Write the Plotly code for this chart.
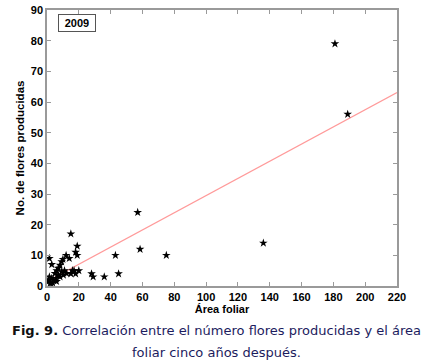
import numpy as np
import plotly.graph_objects as go

# Data
area_foliar = [57, 58.5, 43, 45, 36, 28, 29, 20, 19, 18, 19, 15, 12, 14, 1.5, 3,
               15, 17, 18, 16, 10, 9.2, 8.2, 7.1, 6.1, 5,
               1.5, 3, 0.8, 4, 2.3, 5.7, 8.2, 7, 10.3, 12.4, 9.2, 2, 1, 3.5, 6, 11,
               75, 136, 181, 189]
flores = [24, 12, 10, 4, 3, 4, 3, 5, 13, 11, 10, 17, 10, 9, 9, 7,
          4, 5, 4, 5, 8.7, 7.9, 6.8, 5.8, 5, 4.1,
          3, 2.5, 1.4, 2, 0.9, 2.5, 3, 3.6, 3.6, 4.1, 4.7, 1, 2, 1, 1.5, 5,
          10, 14, 79, 56]
fit_intercept = 1.5
fit_slope = 0.28
x_ticks = list(range(0, 221, 20))
y_ticks = list(range(0, 91, 10))
year_label = "2009"

fit_x = np.array([0, 220])
fit_y = fit_intercept + fit_slope * fit_x

fig = go.Figure()
fig.add_trace(go.Scatter(x=fit_x, y=fit_y, mode="lines",
                         line=dict(color="#ff9a9a", width=1.2), showlegend=False))
fig.add_trace(go.Scatter(x=area_foliar, y=flores, mode="markers",
                         marker=dict(symbol="star", size=6.5, color="black"),
                         showlegend=False))

bold = dict(family="Liberation Sans, Arial", size=11, color="black", weight="bold")
axis_common = dict(showline=True, linecolor="#9a9a9a", linewidth=1.5, mirror="ticks",
                   ticks="inside", ticklen=4, tickcolor="#9a9a9a",
                   showgrid=False, zeroline=False, automargin=False,
                   tickfont=bold)

L, R, T, B = 47, 35, 10, 78
W, H = 432, 364
plot_h = H - T - B
plot_w = W - L - R

def py(pix):
    return (H - B - pix) / plot_h

def px(pix):
    return (pix - L) / plot_w

fig.update_layout(
    width=W, height=H,
    margin=dict(l=L, r=R, t=T, b=B),
    plot_bgcolor="white", paper_bgcolor="white",
    xaxis=dict(range=[0, 220], tickvals=x_ticks, **axis_common,
               title=dict(text="Área foliar", standoff=0, font=bold)),
    yaxis=dict(range=[0, 90], tickvals=y_ticks, **axis_common,
               title=dict(text="No. de flores producidas", standoff=4,
                          font=dict(family="Liberation Sans, Arial", size=11.5, color="black", weight="bold"))),
)

fig.add_annotation(text=year_label, x=px(58), y=py(14), xref="paper", yref="paper",
                   xanchor="left", yanchor="top", showarrow=False,
                   font=bold, bordercolor="#555", borderwidth=1, borderpad=2,
                   bgcolor="white", width=32)
fig.add_annotation(text="<b>Fig. 9.</b> <span style='color:#1c1c5e'>Correlación entre el número flores producidas y el área</span>",
                   x=px(216), y=py(330), xref="paper", yref="paper", yanchor="middle",
                   showarrow=False, font=dict(family="DejaVu Sans", size=13, color="#111"))
fig.add_annotation(text="foliar cinco años después.", x=px(216), y=py(352), xref="paper", yref="paper",
                   yanchor="middle", showarrow=False,
                   font=dict(family="DejaVu Sans", size=13, color="#1c1c5e"))

fig.write_html("out.html", config={"displayModeBar": False},
               post_script="document.body.style.margin='0';document.body.style.overflow='hidden';")
